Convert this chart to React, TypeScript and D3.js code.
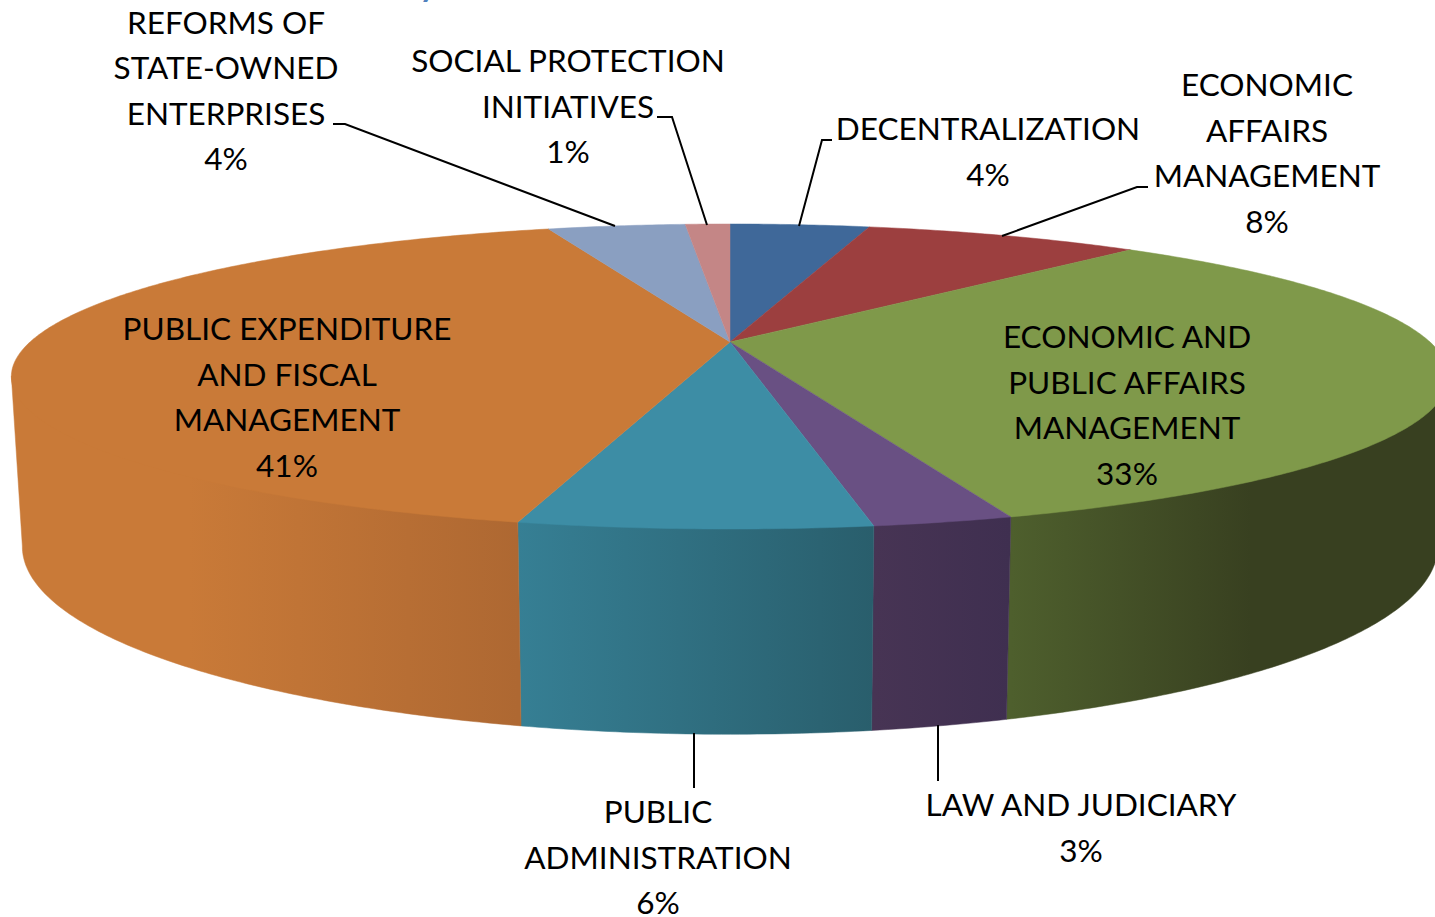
import React from "react";
import * as d3 from "d3";

// Data
const categories = [
  "DECENTRALIZATION",
  "ECONOMIC AFFAIRS MANAGEMENT",
  "ECONOMIC AND PUBLIC AFFAIRS MANAGEMENT",
  "LAW AND JUDICIARY",
  "PUBLIC ADMINISTRATION",
  "PUBLIC EXPENDITURE AND FISCAL MANAGEMENT",
  "REFORMS OF STATE-OWNED ENTERPRISES",
  "SOCIAL PROTECTION INITIATIVES",
];
const shares = [3.9, 7.75, 33.25, 2.55, 6.35, 41.1, 3.85, 1.25];
const percentLabels = ["4%", "8%", "33%", "3%", "6%", "41%", "4%", "1%"];
const labelLines = [
  ["DECENTRALIZATION"],
  ["ECONOMIC", "AFFAIRS", "MANAGEMENT"],
  ["ECONOMIC AND", "PUBLIC AFFAIRS", "MANAGEMENT"],
  ["LAW AND JUDICIARY"],
  ["PUBLIC", "ADMINISTRATION"],
  ["PUBLIC EXPENDITURE", "AND FISCAL", "MANAGEMENT"],
  ["REFORMS OF", "STATE-OWNED", "ENTERPRISES"],
  ["SOCIAL PROTECTION", "INITIATIVES"],
];

// Styles and layout
const topColors = ["#3F6899", "#9C3F3F", "#7F994A", "#695083", "#3D8DA5", "#C97A38", "#8A9FC1", "#C48686"];
const wallFrom = ["#2E4D72", "#742F2F", "#4E5F2D", "#473454", "#367F94", "#C97A38", "#66768F", "#916363"];
const wallTo = ["#2E4D72", "#742F2F", "#384020", "#3F2F50", "#295E6C", "#AE6832", "#66768F", "#916363"];
const labelAnchors = [
  [988, 140], [1267, 96], [1127, 348], [1081, 816], [658, 823], [287, 340], [226, 33.5], [568, 72],
];
const leaders = [
  [[832, 140], [822, 140], [799, 226]],
  [[1148, 187], [1137, 187], [1002, 236]],
  null,
  [[938, 725], [938, 781]],
  [[694, 733], [694, 788]],
  null,
  [[333, 124], [345, 124], [615, 226]],
  [[657, 117], [672, 117], [707, 225]],
];

const W = 1435;
const H = 917;
const LINE = 45.5;
const FONT = 31.5;

// Perspective projection of the unit disc
const apex = { x: 730, y: 342 };
const persp = { a: 700, b: 144.7, k: 0.2263 };
const topEllipse = { cx: 730, cy: 376, rx: 719, ry: 152 };
const baseEllipse = { cx: 730, cy: 546, rx: 708, ry: 187 };

function project(angle: number): [number, number] {
  const u = Math.sin(angle);
  const v = -Math.cos(angle);
  const w = 1 - persp.k * v;
  return [apex.x + (persp.a * u) / w, apex.y + (persp.b * v) / w];
}
function toBase([x, y]: [number, number]): [number, number] {
  return [
    baseEllipse.cx + ((x - topEllipse.cx) * baseEllipse.rx) / topEllipse.rx,
    baseEllipse.cy + ((y - topEllipse.cy) * baseEllipse.ry) / topEllipse.ry,
  ];
}
// Pull a rim point slightly towards the apex, so the wall runs under the top face
function inset([x, y]: [number, number]): [number, number] {
  return [apex.x + (x - apex.x) * 0.985, apex.y + (y - apex.y) * 0.985];
}
const FRONT_START = (102.9 * Math.PI) / 180;
const FRONT_END = (257.1 * Math.PI) / 180;

function arcAngles(a0: number, a1: number): number[] {
  const n = Math.max(2, Math.ceil((a1 - a0) / 0.01));
  return d3.range(n + 1).map((i) => a0 + ((a1 - a0) * i) / n);
}

export default function App() {
  const arcs = d3.pie<number>().sort(null).value((d) => d)(shares);
  const line = d3.line();
  return (
    <svg
      width={W}
      height={H}
      viewBox={`0 0 ${W} ${H}`}
      style={{ position: "absolute", left: 0, top: 0, display: "block", background: "#fff" }}
      fontFamily="Lato, 'Open Sans', sans-serif"
    >
      <defs>
        {arcs.map((s, i) => {
          const a0 = Math.max(s.startAngle, FRONT_START);
          const a1 = Math.min(s.endAngle, FRONT_END);
          if (a1 <= a0) return null;
          const xs = arcAngles(a0, a1).map((a) => project(a)[0]);
          const lo = d3.min(xs)!;
          const hi = d3.max(xs)!;
          return (
            <linearGradient key={i} id={`wall${i}`} gradientUnits="userSpaceOnUse" x1={lo} x2={hi} y1={0} y2={0}>
              <stop offset={i === 5 ? 0.35 : 0} stopColor={wallFrom[i]} />
              <stop offset={i === 2 ? 0.55 : 1} stopColor={wallTo[i]} />
            </linearGradient>
          );
        })}
      </defs>

      <text x={428} y={-3} fontSize={32} fontWeight={700} fill="#4F81BD" textAnchor="middle">y</text>

      {arcs.map((s, i) => {
        const a0 = Math.max(s.startAngle, FRONT_START);
        const a1 = Math.min(s.endAngle, FRONT_END);
        if (a1 <= a0) return null;
        const rim = arcAngles(a0, a1).map(project);
        const base = rim.map(toBase).reverse();
        const upper = rim.map((p, j) => (j === 0 || j === rim.length - 1 ? p : inset(p)));
        return <path key={i} d={line([...upper, ...base])! + "Z"} fill={`url(#wall${i})`} stroke={`url(#wall${i})`} strokeWidth={0.5} />;
      })}

      {arcs.map((s, i) => {
        const pts = [[apex.x, apex.y] as [number, number], ...arcAngles(s.startAngle, s.endAngle).map(project)];
        return <path key={i} d={line(pts)! + "Z"} fill={topColors[i]} stroke={topColors[i]} strokeWidth={0.5} />;
      })}

      {leaders.map((l, i) =>
        l ? <path key={i} d={line(l as [number, number][])!} fill="none" stroke="#000" strokeWidth={2} /> : null
      )}

      {categories.map((c, i) => {
        const [x, y] = labelAnchors[i];
        const lines = [...labelLines[i], percentLabels[i]];
        return (
          <text key={c} x={x} textAnchor="middle" fontSize={FONT} fill="#000">
            {lines.map((t, j) => (
              <tspan key={j} x={x} y={y + j * LINE}>{t}</tspan>
            ))}
          </text>
        );
      })}
    </svg>
  );
}
